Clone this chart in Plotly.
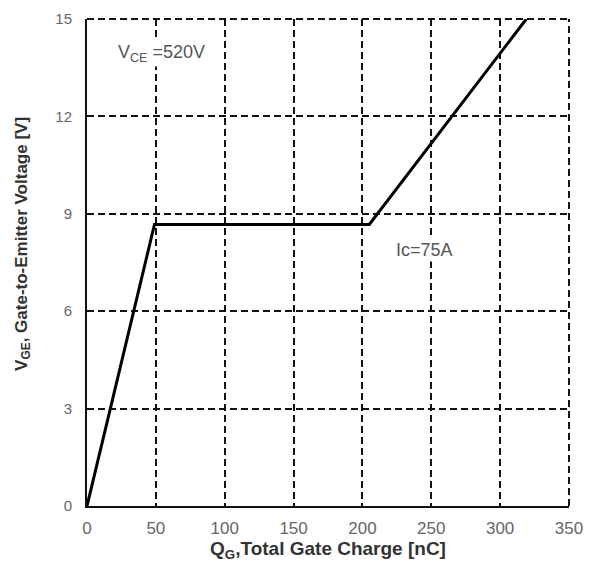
import plotly.graph_objects as go

# Data
qg_nc = [0, 49, 205, 319]
vge_v = [0, 8.67, 8.67, 15]
x_ticks = [0, 50, 100, 150, 200, 250, 300, 350]
y_ticks = [0, 3, 6, 9, 12, 15]

FONT = "Liberation Sans, Arial"
fig = go.Figure()
fig.add_trace(go.Scatter(x=qg_nc, y=vge_v, mode="lines",
                         line=dict(color="black", width=3), showlegend=False))

axis_common = dict(
    showgrid=True, gridcolor="#111111", gridwidth=2, griddash="7px,4px",
    showline=True, linecolor="#111111", linewidth=2, zeroline=False, ticks="",
)
fig.update_xaxes(range=[0, 350], tickvals=x_ticks, **axis_common,
                 tickfont=dict(family=FONT, size=17, color="#666666"),
                 ticklabelstandoff=6,
                 title=dict(text="<b>Q<sub>G</sub>,Total Gate Charge [nC]</b>",
                            font=dict(family=FONT, size=19, color="#333333"),
                            standoff=4))
fig.update_yaxes(range=[0, 15], tickvals=y_ticks, **axis_common,
                 tickfont=dict(family=FONT, size=15, color="#666666"),
                 ticklabelstandoff=10)

# y-axis title (placed slightly above centre, as in the reference)
fig.add_annotation(xref="paper", yref="paper", x=-0.133, y=0.538,
                   xanchor="center", yanchor="middle", showarrow=False, textangle=-90,
                   text="<b>V<sub>GE</sub>, Gate-to-Emitter Voltage [V]</b>",
                   font=dict(family=FONT, size=17, color="#333333"))

# dashed frame on top and right (grid lines at the range ends)
for x0, y0, x1, y1 in [(0, 1, 1, 1), (1, 0, 1, 1)]:
    fig.add_shape(type="line", xref="paper", yref="paper", x0=x0, y0=y0, x1=x1, y1=y1,
                  line=dict(color="#111111", width=2, dash="7px,4px"))

fig.add_annotation(x=54, y=13.94, xanchor="center", yanchor="middle", showarrow=False,
                   text="V<sub>CE</sub> =520V",
                   font=dict(family=FONT, size=18, color="#555555"),
                   bgcolor="white")
fig.add_annotation(x=245, y=7.9, xanchor="center", yanchor="middle", showarrow=False,
                   text="Ic=75A",
                   font=dict(family=FONT, size=18, color="#555555"),
                   bgcolor="white")

fig.update_layout(width=596, height=571, margin=dict(l=87, r=27, t=10, b=65),
                  plot_bgcolor="white", paper_bgcolor="white")
fig.write_html("out.html")
